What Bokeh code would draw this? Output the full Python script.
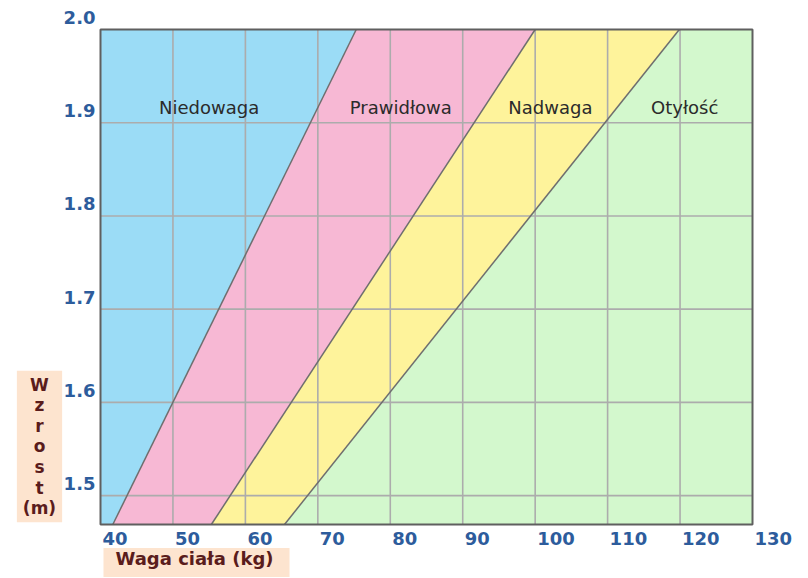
import numpy as np
from bokeh.plotting import figure
from bokeh.models import Range1d
from bokeh.core.properties import value
from bokeh.embed import file_html
from bokeh.resources import INLINE

# ---------------- data ----------------
x_ticks = [40, 50, 60, 70, 80, 90, 100, 110, 120, 130]
x_tick_labels = ["40", "50", "60", "70", "80", "90", "100", "110", "120", "130"]
y_ticks = [1.5, 1.6, 1.7, 1.8, 1.9, 2.0]
y_tick_labels = ["1.5", "1.6", "1.7", "1.8", "1.9", "2.0"]

x_min, x_max = 40, 130
y_min, y_max = 1.469, 2.0

# band boundaries: weight (kg) at the bottom and top heights
heights = [1.469, 2.0]
underweight_limit = [41.7, 75.3]
normal_limit = [55.3, 100.0]
overweight_limit = [65.4, 119.9]

categories = ["Niedowaga", "Prawidłowa", "Nadwaga", "Otyłość"]
category_height = 1.916

x_title = "Waga ciała (kg)"
y_title = "W\nz\nr\no\ns\nt\n(m)"

# ---------------- layout / styles ----------------
W, H = 808, 578
FRAME_L, FRAME_R, FRAME_T, FRAME_B = 100, 752, 29, 524   # pixel box of the plotting area
kx = (FRAME_R - FRAME_L) / (x_max - x_min)
ky = (FRAME_B - FRAME_T) / (y_max - y_min)
x_range = Range1d(x_min - FRAME_L / kx, x_max + (W - FRAME_R) / kx)
y_range = Range1d(y_min - (H - FRAME_B) / ky, y_max + FRAME_T / ky)

FONT = value("DejaVu Sans")
C_BLUE = "#9bdcf6"
C_PINK = "#f7b8d4"
C_YELLOW = "#fef39b"
C_GREEN = "#d3f8cd"
C_TICK = "#2d5c9c"
C_TITLE = "#5a1c1c"
C_TITLE_BG = "#fde4cf"

p = figure(width=W, height=H, x_range=x_range, y_range=y_range,
           output_backend="svg", toolbar_location=None, min_border=0)
p.xaxis.visible = False
p.yaxis.visible = False
p.xgrid.visible = False
p.ygrid.visible = False
p.outline_line_color = None
p.background_fill_color = "white"
p.border_fill_color = "white"

# coloured bands
p.harea(y=heights, x1=[x_min, x_min], x2=underweight_limit, fill_color=C_BLUE)
p.harea(y=heights, x1=underweight_limit, x2=normal_limit, fill_color=C_PINK)
p.harea(y=heights, x1=normal_limit, x2=overweight_limit, fill_color=C_YELLOW)
p.harea(y=heights, x1=overweight_limit, x2=[x_max, x_max], fill_color=C_GREEN)

# grid lines
gx = x_ticks[1:-1]
p.segment(x0=gx, y0=[y_min] * len(gx), x1=gx, y1=[y_max] * len(gx),
          line_color="#acacac", line_width=1.6)
gy = y_ticks[:-1]
p.segment(x0=[x_min] * len(gy), y0=gy, x1=[x_max] * len(gy), y1=gy,
          line_color="#acacac", line_width=1.6)

# band boundaries
for lim in (underweight_limit, normal_limit, overweight_limit):
    p.line(x=lim, y=heights, line_color="#6e6e6e", line_width=1.5)

# plot-area border
p.quad(left=[x_min], right=[x_max], bottom=[y_min], top=[y_max],
       fill_color=None, line_color="#5f5f5f", line_width=2)

# category labels centred in their bands
edges = [x_min] + [float(np.interp(category_height, heights, lim))
                   for lim in (underweight_limit, normal_limit, overweight_limit)] + [x_max]
cat_x = [(edges[i] + edges[i + 1]) / 2 for i in range(4)]
p.text(x=cat_x, y=[category_height] * 4, text=categories, text_align="center",
       text_baseline="middle", text_font=FONT, text_font_size="18px",
       text_color="#2b2b2b")

# tick labels
p.text(x=x_ticks, y=[y_min] * len(x_ticks), text=x_tick_labels, text_align="left",
       text_baseline="alphabetic", x_offset=2, y_offset=14,
       text_font=FONT, text_font_size="18px", text_font_style="bold", text_color=C_TICK)
p.text(x=[x_min] * len(y_ticks), y=y_ticks, text=y_tick_labels, text_align="right",
       text_baseline="alphabetic", x_offset=-5, y_offset=-12,
       text_font=FONT, text_font_size="18px", text_font_style="bold", text_color=C_TICK)

# axis titles
p.text(x=[x_min], y=[y_min], text=[x_title], x_offset=96, y_offset=38,
       text_align="center", text_baseline="middle", text_font=FONT,
       text_font_size="18px", text_font_style="bold", text_color=C_TITLE,
       text_line_height=0.95, background_fill_color=C_TITLE_BG,
       padding=dict(left=12, right=16, top=0, bottom=8))
p.text(x=[x_min], y=[y_min], text=[y_title], x_offset=-61, y_offset=-78,
       text_align="center", text_baseline="middle", text_font=FONT,
       text_font_size="17px", text_font_style="bold", text_color=C_TITLE,
       text_line_height=1.03, background_fill_color=C_TITLE_BG,
       padding=dict(left=6, right=6, top=4, bottom=4))

open("out.html", "w").write(file_html(p, INLINE))
